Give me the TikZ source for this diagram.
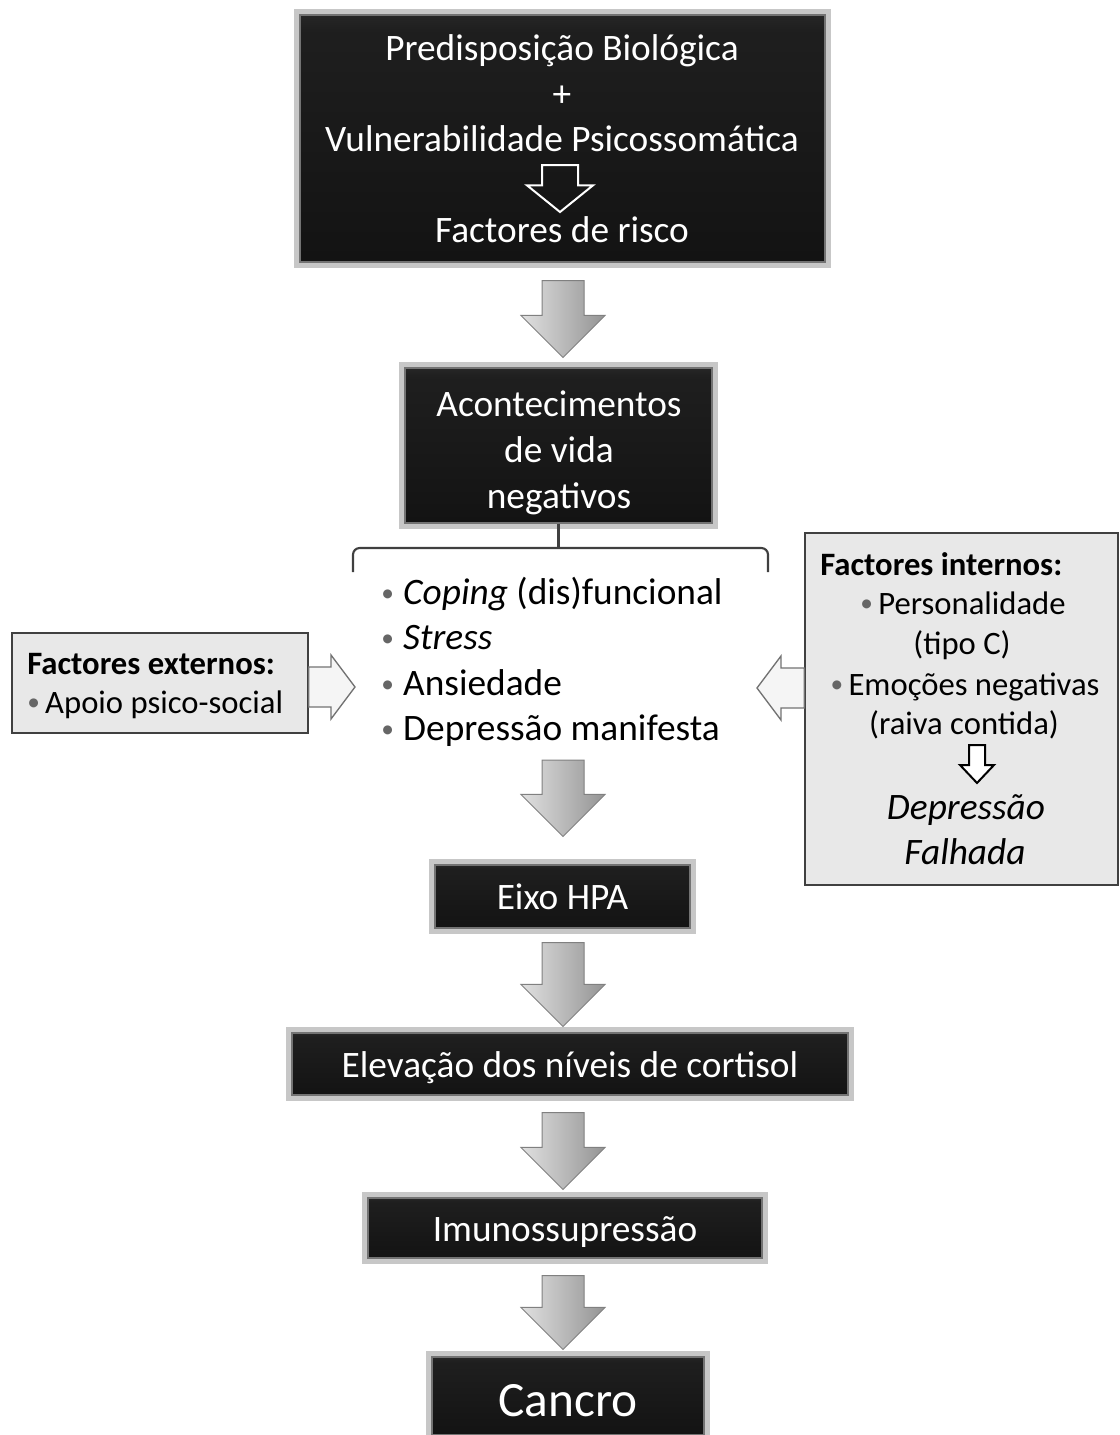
\documentclass[tikz,border=0pt]{standalone}
\usepackage{fontspec}
\setmainfont{Carlito}
\usetikzlibrary{calc}
\pgfdeclareverticalshading{boxshade}{100bp}{color(0bp)=(black!95); color(72bp)=(black!88); color(92bp)=(black!68); color(100bp)=(black!52)}
\newcommand{\fbig}{\fontsize{28}{34.5}\selectfont}
\newcommand{\fmid}{\fontsize{24.5}{30}\selectfont}
\newcommand{\fhuge}{\fontsize{37}{44}\selectfont}
\newcommand{\bul}{{\color{black!60}\fontsize{19}{19}\selectfont\raisebox{0.12em}{•}}}
% vertical block arrow: [style]{start}{tip}{shaft half}{head half}{head length}
\newcommand{\downarr}[6][]{\path[#1] let \p1=(#2), \p2=(#3) in
  (\x1-#4,\y1) -- (\x1+#4,\y1) -- (\x1+#4,\y2+#6) -- (\x1+#5,\y2+#6) -- (\x1,\y2)
  -- (\x1-#5,\y2+#6) -- (\x1-#4,\y2+#6) -- cycle;}
\newcommand{\rightarr}[6][]{\path[#1] let \p1=(#2), \p2=(#3) in
  (\x1,\y1+#4) -- (\x2-#6,\y1+#4) -- (\x2-#6,\y1+#5) -- (\x2,\y1) -- (\x2-#6,\y1-#5)
  -- (\x2-#6,\y1-#4) -- (\x1,\y1-#4) -- cycle;}
\newcommand{\leftarr}[6][]{\path[#1] let \p1=(#2), \p2=(#3) in
  (\x1,\y1+#4) -- (\x2+#6,\y1+#4) -- (\x2+#6,\y1+#5) -- (\x2,\y1) -- (\x2+#6,\y1-#5)
  -- (\x2+#6,\y1-#4) -- (\x1,\y1-#4) -- cycle;}
\begin{document}
\begin{tikzpicture}[x=0.75pt,y=-0.75pt,
  darkbox/.style={shade, shading=boxshade, draw=black!55, line width=0.8pt,
    preaction={draw=black!22, line width=9pt}, inner sep=0pt, text=white, font=\fbig},
  big/.style={font=\fbig, text height=19.6pt, text depth=5.6pt},
  bigbox/.style={font=\fbig, text height=25.6pt, text depth=5.6pt},
  huge/.style={font=\fhuge, text height=37.9pt, text depth=7.4pt},
  mid/.style={font=\fmid, text height=17.15pt, text depth=4.9pt},
  lightbox/.style={fill=black!9, draw=black!75, line width=1pt, inner sep=0pt},
  wtxt/.style={text=white, big, inner sep=0pt},
  ltxt/.style={text=black, big, inner sep=0pt},
  mtxt/.style={text=black, mid, inner sep=0pt},
  grayarrow/.style={draw=black!50, line width=0.75pt, left color=black!12, right color=black!42},
  hollowarrow/.style={draw=black!55, line width=1pt, fill=black!4},
  bracketline/.style={draw=black!75, line width=1.6pt}
]
\fill[white] (0,0) rectangle (1120,1435);
\useasboundingbox (0,0) rectangle (1120,1435);
\coordinate (ax) at (563,0);

% ---------- top box
\node[darkbox, minimum width=393.75pt, minimum height=185.25pt] (top) at (562.5,138.5) {};
\node[wtxt] (t1) at (562,51) {Predisposição Biológica};
\node[wtxt] (t2) at (562,97) {+};
\node[wtxt] (t3) at (562,142) {Vulnerabilidade Psicossomática};
\node[wtxt] (t4) at (562,233) {Factores de risco};
\coordinate (hs) at (560,165);
\coordinate (he) at (560,212);
\downarr[draw=white, line width=1.5pt]{hs}{he}{13.5pt}{24.75pt}{20pt}

% ---------- acontecimentos
\node[darkbox, minimum width=230.25pt, minimum height=116.25pt] (acont) at (558.5,445.5) {};
\node[wtxt, align=center, text height=, text depth=] (acontT) at (559,453) {Acontecimentos\\de vida\\negativos};

% ---------- bracket
\coordinate (brk) at (560,548);
\coordinate (brL) at (353,572);
\coordinate (brR) at (768,572);
\draw[bracketline, rounded corners=5pt] (brL) -- (brL |- brk) -- (brR |- brk) -- (brR);
\draw[bracketline] (acont.south) -- (acont.south |- brk);

% ---------- list
\node[ltxt, anchor=west] (l1) at (381,595) {\bul\hspace{7pt}\textit{Coping} (dis)funcional};
\node[ltxt, anchor=west] (l2) at (381,640) {\bul\hspace{7pt}\textit{Stress}};
\node[ltxt, anchor=west] (l3) at (381,686) {\bul\hspace{7pt}Ansiedade};
\node[ltxt, anchor=west] (l4) at (381,731) {\bul\hspace{7pt}Depressão manifesta};

% ---------- external factors
\node[lightbox, minimum width=222pt, minimum height=75pt] (ext) at (160,683) {};
\node[mtxt, anchor=west] (ext1) at (27,666) {\textbf{Factores externos:}};
\node[mtxt, anchor=west] (ext2) at (27,705) {\bul\hspace{4pt}Apoio psico-social};
\coordinate (extTip) at ($(l3.west)+(-26,1)$);
\rightarr[hollowarrow]{$(ext.east)+(0,4)$}{extTip}{15pt}{24pt}{18pt}

% ---------- internal factors
\node[lightbox, minimum width=234.75pt, minimum height=264pt] (int) at (961.5,709) {};
\node[mtxt, anchor=west] (in1) at (820,567) {\textbf{Factores internos:}};
\node[mtxt] (in2) at (963,606) {\bul\hspace{4pt}Personalidade};
\node[mtxt] (in3) at (962,646) {(tipo C)};
\node[mtxt] (in4) at (965,687) {\bul\hspace{4pt}Emoções negativas};
\node[mtxt] (in5) at (964,726) {(raiva contida)};
\coordinate (ias) at (977,745);
\coordinate (iae) at (977,783);
\downarr[draw=black, line width=1.5pt, fill=white]{ias}{iae}{6pt}{12.75pt}{13.5pt}
\node[ltxt] (in6) at (966,810) {\textit{Depressão}};
\node[ltxt] (in7) at (965,855) {\textit{Falhada}};
\coordinate (intTip) at (757,688);
\leftarr[hollowarrow]{$(int.west)+(0,-21)$}{intTip}{15pt}{24pt}{18pt}

% ---------- lower chain
\node[darkbox, bigbox, minimum width=191.25pt, minimum height=47.25pt] (eixo) at (562.5,896.5) {Eixo HPA};
\node[darkbox, bigbox, minimum width=417pt, minimum height=46.5pt] (elev) at (570,1064) {Elevação dos níveis de cortisol};
\node[darkbox, bigbox, minimum width=295.5pt, minimum height=45pt] (imuno) at (565,1228) {Imunossupressão};
\node[darkbox, huge, minimum width=204pt, minimum height=58.5pt] (cancro) at (568,1396) {Cancro};

% ---------- gray block arrows
\coordinate (a1s) at ($(top.south -| ax)+(0,18)$);
\coordinate (a1e) at ($(acont.north -| ax)+(0,-10)$);
\coordinate (a2s) at ($(l4.south -| ax)+(0,12)$);
\coordinate (a2e) at ($(eixo.north -| ax)+(0,-28)$);
\coordinate (a3s) at ($(eixo.south -| ax)+(0,14)$);
\coordinate (a3e) at ($(elev.north -| ax)+(0,-6)$);
\coordinate (a4s) at ($(elev.south -| ax)+(0,17)$);
\coordinate (a4e) at ($(imuno.north -| ax)+(0,-8)$);
\coordinate (a5s) at ($(imuno.south -| ax)+(0,17)$);
\coordinate (a5e) at ($(cancro.north -| ax)+(0,-7)$);
\downarr[grayarrow]{a1s}{a1e}{15.75pt}{31.5pt}{31.5pt}
\downarr[grayarrow]{a2s}{a2e}{15.75pt}{31.5pt}{31.5pt}
\downarr[grayarrow]{a3s}{a3e}{15.75pt}{31.5pt}{31.5pt}
\downarr[grayarrow]{a4s}{a4e}{15.75pt}{31.5pt}{31.5pt}
\downarr[grayarrow]{a5s}{a5e}{15.75pt}{31.5pt}{31.5pt}
\end{tikzpicture}
\end{document}
